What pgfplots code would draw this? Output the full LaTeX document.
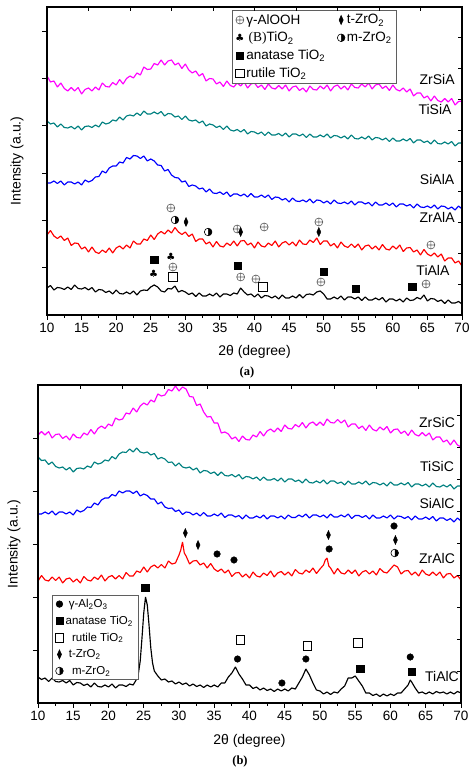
\documentclass[border=0pt]{standalone}
\usepackage{pgfplots}
\pgfplotsset{compat=1.18}
\usepackage{fontspec}
\setmainfont{Liberation Sans}
\newfontfamily\serif{Liberation Serif}
\newfontfamily\sym{DejaVu Sans}
\usetikzlibrary{plotmarks}
\definecolor{cmag}{RGB}{255,0,255}
\definecolor{cteal}{RGB}{0,128,128}
\definecolor{cblue}{RGB}{0,0,255}
\definecolor{cred}{RGB}{255,0,0}
\definecolor{mgray}{RGB}{95,95,95}
\pgfplotsset{
 mainax/.style={scale only axis, xmin=10, xmax=70, ymin=0,
   axis line style={line width=1.1pt},
   xtick={10,15,...,70}, minor x tick num=1,
   xtick pos=left, ytick pos=left, tick align=outside,
   major tick length=5pt, minor tick length=3pt,
   yticklabels={},
   every tick/.style={black, line width=0.9pt},
   ticklabel style={font=\fontsize{13.5}{15}\selectfont},
   /pgf/number format/assume math mode=true,
   xlabel={2θ (degree)}, ylabel={Intensity (a.u.)},
 },
 overax/.style={scale only axis, xmin=10, xmax=70, ymin=0,
   axis line style={line width=1.1pt},
   xtick={16,22,...,64}, xtick pos=right, ytick pos=right, tick align=inside,
   major tick length=4pt, xticklabels={}, yticklabels={},
   every tick/.style={black, line width=0.9pt},
 },
 alooh/.style={only marks, mark=oplus, mark size=4pt, mark options={line width=0.6pt}, color=mgray},
 tzro/.style={only marks, mark=diamond*, mark size=4.5pt, mark options={xscale=0.6}, black},
 btio/.style={only marks, mark=text, text mark={\fontsize{10}{10}\selectfont\sym ♣}, black},
 mzro/.style={only marks, mark=halfcircle*, mark size=3.8pt, mark options={rotate=-90, line width=0.6pt}, black},
 anat/.style={only marks, mark=square*, mark size=3.6pt, black},
 rut/.style={only marks, mark=square, mark size=4.2pt, mark options={line width=0.8pt}, black},
 gal/.style={only marks, mark=*, mark size=3.3pt, black},
 curve/.style={no markers, forget plot, line width=1.15pt, line join=bevel},
}
\begin{document}
\begin{tikzpicture}
\useasboundingbox (0pt,0pt) rectangle (474pt,781pt);
% ---------------- panel (a) ----------------
\begin{axis}[mainax, at={(47pt,466pt)}, anchor=south west, width=415pt, height=308pt, ymax=308,
  ytick={47.3,94.6,141.9,189.2,236.5,283.8},
  every axis y label/.style={at={(axis description cs:-0.072,0.5)}, rotate=90, anchor=center, font=\fontsize{14}{16}\selectfont},
  every axis x label/.style={at={(axis description cs:0.5,-0.12)}, anchor=center, font=\fontsize{14}{16}\selectfont},
  legend columns=2,
  legend cell align=left,
  legend image code/.code={\draw[mark repeat=2,mark phase=2] plot coordinates {(0pt,0pt)(5pt,0pt)(10pt,0pt)};},
  legend style={at={(0.446,0.99)}, anchor=north west, draw=mgray, line width=0.6pt, fill=white,
     font=\fontsize{13.5}{14}\selectfont, inner xsep=3pt, inner ysep=2pt, row sep=2.5pt,
     /tikz/every even column/.append style={column sep=9pt}},
]
\addplot[curve, cmag] coordinates {
(10,239)(10.5,233)(11,234)(11.5,228)(12,232)(12.5,226.5)(13,224)(13.5,227.5)(14,224)(14.5,227.5)(15,221)(15.5,225.5)
(16,227)(16.5,224)(17,228)(17.5,225)(18,232)(18.5,228.5)(19,228)(19.5,232.5)(20,230)(20.5,235.5)(21,231)(21.5,236.5)
(22,239)(22.5,237)(23,242)(23.5,240)(24,248)(24.5,245.5)(25,246)(25.5,251.5)(26,250)(26.5,255)(27,250)(27.5,254)
(28,255)(28.5,250)(29,252)(29.5,246.5)(30,251)(30.5,245)(31,242)(31.5,244)(32,239)(32.5,241.5)(33,234)(33.5,236.5)
(34,236)(34.5,231)(35,233)(35.5,228.5)(36,234)(36.5,229.5)(37,228)(37.5,232)(38,229)(38.5,233)(39,227)(39.5,231)
(40,232)(40.5,227.5)(41,230)(41.5,225.5)(42,231)(42.5,227)(43,226)(43.5,229.5)(44,226)(44.5,230)(45,224)(45.5,228)
(46,229)(46.5,224.5)(47,227)(47.5,223)(48,229)(48.5,225.5)(49,225)(49.5,229)(50,226)(50.5,230)(51,224)(51.5,228.5)
(52,230)(52.5,226)(53,229)(53.5,225)(54,231)(54.5,227.5)(55,227)(55.5,231)(56,228)(56.5,232)(57,226)(57.5,230)
(58,231)(58.5,226.5)(59,229)(59.5,224.5)(60,230)(60.5,225.5)(61,224)(61.5,227)(62,223)(62.5,226)(63,219)(63.5,222)
(64,222)(64.5,217)(65,219)(65.5,214)(66,219)(66.5,214.5)(67,213)(67.5,216.5)(68,213)(68.5,216.5)(69,210)(69.5,213.5)
(70,214)};
\addplot[curve, cteal] coordinates {
(10,194)(10.5,191)(11,192)(11.5,188)(12,191)(12.5,187.5)(13,187)(13.5,188.5)(14,186)(14.5,189)(15,185)(15.5,188.5)
(16,189)(16.5,187.5)(17,190)(17.5,188)(18,193)(18.5,191)(19,192)(19.5,195)(20,194)(20.5,198)(21,195)(21.5,199)
(22,200)(22.5,199)(23,202)(23.5,199.5)(24,204)(24.5,201)(25,201)(25.5,203)(26,201)(26.5,203.5)(27,199)(27.5,201.5)
(28,201)(28.5,198)(29,199)(29.5,195.5)(30,199)(30.5,195)(31,194)(31.5,195)(32,192)(32.5,194)(33,189)(33.5,191)
(34,190)(34.5,187.5)(35,189)(35.5,185.5)(36,189)(36.5,185)(37,184)(37.5,185.5)(38,183)(38.5,185.5)(39,181)(39.5,183.5)
(40,183)(40.5,181)(41,183)(41.5,179.5)(42,183)(42.5,180)(43,180)(43.5,181.5)(44,179)(44.5,182)(45,178)(45.5,181)
(46,181)(46.5,179)(47,181)(47.5,177.5)(48,181)(48.5,178)(49,178)(49.5,180)(50,178)(50.5,181)(51,177)(51.5,179.5)
(52,179)(52.5,177)(53,179)(53.5,176)(54,180)(54.5,176.5)(55,176)(55.5,178)(56,176)(56.5,179)(57,175)(57.5,177.5)
(58,177)(58.5,175)(59,177)(59.5,173.5)(60,177)(60.5,174)(61,174)(61.5,176)(62,174)(62.5,176.5)(63,172)(63.5,175)
(64,175)(64.5,172.5)(65,174)(65.5,171)(66,175)(66.5,171.5)(67,171)(67.5,173)(68,171)(68.5,173.5)(69,169)(69.5,172)
(70,172)};
\addplot[curve, cblue] coordinates {
(10,132)(10.5,132)(11,134)(11.5,131.5)(12,134)(12.5,130)(13,133)(13.5,133)(14,131)(14.5,133)(15,130)(15.5,135)
(16,133)(16.5,134.5)(17,138)(17.5,138.5)(18,144)(18.5,142)(19,147)(19.5,149)(20,149)(20.5,153)(21,152)(21.5,157.5)
(22,156)(22.5,159.5)(23,159)(23.5,156.5)(24,159)(24.5,154)(25,156)(25.5,154)(26,150)(26.5,149.5)(27,144)(27.5,145.5)
(28,140)(28.5,137.5)(29,137)(29.5,133)(30,134)(30.5,128.5)(31,130)(31.5,129)(32,126)(32.5,127)(33,123)(33.5,126)
(34,122)(34.5,121.5)(35,123)(35.5,120.5)(36,123)(36.5,118.5)(37,121)(37.5,121)(38,119)(38.5,121)(39,118)(39.5,121.5)
(40,118)(40.5,118)(41,120)(41.5,117.5)(42,120)(42.5,115.5)(43,118)(43.5,117.5)(44,115)(44.5,116.5)(45,113)(45.5,117)
(46,114)(46.5,113.5)(47,115)(47.5,113)(48,116)(48.5,112)(49,115)(49.5,114.5)(50,112)(50.5,114)(51,111)(51.5,115)
(52,112)(52.5,111.5)(53,113)(53.5,111)(54,114)(54.5,110)(55,113)(55.5,113)(56,111)(56.5,112.5)(57,109)(57.5,113)
(58,110)(58.5,110)(59,112)(59.5,109.5)(60,112)(60.5,108)(61,111)(61.5,111)(62,109)(62.5,110.5)(63,107)(63.5,111)
(64,108)(64.5,107.5)(65,109)(65.5,107)(66,110)(66.5,106)(67,109)(67.5,108.5)(68,106)(68.5,108)(69,105)(69.5,109)
(70,106)};
\addplot[curve, cred] coordinates {
(10,80)(10.5,84.5)(11,79)(11.5,76.5)(12,79)(12.5,74.5)(13,77)(13.5,69.5)(14,72)(14.5,71.5)(15,66)(15.5,68)
(16,63)(16.5,68)(17,63)(17.5,61.5)(18,65)(18.5,62.5)(19,67)(19.5,62)(20,67)(20.5,69)(21,66)(21.5,70)
(22,67)(22.5,74)(23,71)(23.5,71)(24,76)(24.5,74.5)(25,80)(25.5,75.5)(26,81)(26.5,83.5)(27,81)(27.5,85)
(28,82)(28.5,87.5)(29,83)(29.5,80.5)(30,83)(30.5,78.5)(31,81)(31.5,73.5)(32,76)(32.5,76)(33,71)(33.5,73)
(34,68)(34.5,73.5)(35,69)(35.5,68)(36,72)(36.5,69.5)(37,74)(37.5,69)(38,74)(38.5,74.5)(39,70)(39.5,72)
(40,67)(40.5,73)(41,69)(41.5,68)(42,72)(42.5,69.5)(43,74)(43.5,68)(44,72)(44.5,73.5)(45,70)(45.5,73)
(46,69)(46.5,75)(47,71)(47.5,70.5)(48,75)(48.5,72.5)(49,77)(49.5,70.5)(50,74)(50.5,74)(51,69)(51.5,71.5)
(52,67)(52.5,73)(53,69)(53.5,67.5)(54,71)(54.5,67.5)(55,71)(55.5,65)(56,69)(56.5,70)(57,66)(57.5,69)
(58,65)(58.5,70.5)(59,66)(59.5,65)(60,69)(60.5,66)(61,70)(61.5,63.5)(62,67)(62.5,67.5)(63,63)(63.5,65)
(64,60)(64.5,65.5)(65,61)(65.5,59)(66,62)(66.5,58)(67,61)(67.5,54)(68,57)(68.5,57)(69,52)(69.5,54)
(70,49)};
\addplot[curve, black] coordinates {
(10,27)(10.5,29.5)(11,25)(11.5,27.5)(12,27)(12.5,25.5)(13,28)(13.5,25.5)(14,30)(14.5,26.5)(15,26)(15.5,27.5)
(16,25)(16.5,27.5)(17,23)(17.5,25.5)(18,25)(18.5,22.5)(19,24)(19.5,21)(20,25)(20.5,21.5)(21,21)(21.5,23)
(22,21)(22.5,24)(23,20)(23.5,24)(24,25)(24.5,24.5)(25,28)(25.5,30)(26,28)(26.5,24)(27,23)(27.5,26.5)
(28,26)(28.5,29)(29,23)(29.5,24.5)(30,23)(30.5,20.5)(31,22)(31.5,18.5)(32,22)(32.5,19)(33,19)(33.5,21)
(34,19)(34.5,22)(35,18)(35.5,21)(36,21)(36.5,19.5)(37,22)(37.5,21)(38,27)(38.5,23)(39,20)(39.5,21)
(40,18)(40.5,21)(41,17)(41.5,19.5)(42,19)(42.5,17)(43,19)(43.5,16)(44,20)(44.5,17)(45,17)(45.5,19)
(46,17)(46.5,20.5)(47,17)(47.5,20.5)(48,21)(48.5,20)(49,23)(49.5,24)(50,21)(50.5,16)(51,16)(51.5,18)
(52,16)(52.5,19)(53,15)(53.5,18)(54,18)(54.5,16)(55,18)(55.5,14.5)(56,18)(56.5,15)(57,15)(57.5,17)
(58,15)(58.5,17.5)(59,13)(59.5,16)(60,16)(60.5,14)(61,16)(61.5,13)(62,17)(62.5,14.5)(63,15)(63.5,17.5)
(64,16)(64.5,20)(65,14)(65.5,16.5)(66,16)(66.5,13.5)(67,15)(67.5,11.5)(68,15)(68.5,12)(69,12)(69.5,13.5)
(70,11)};
% markers (legend order row-wise)
\addplot[alooh] coordinates {(27.9,107)(37.5,86)(41.4,88)(49.3,93)(65.5,70)(28.2,48)(38.0,38)(40.2,36)(49.6,33)(64.8,31)};
\addlegendentry{γ-AlOOH}
\addplot[tzro] coordinates {(30.1,93)(38.0,83)(49.3,83)};
\addlegendentry{t-ZrO\textsubscript{2}}
\addplot[btio] coordinates {(27.9,58)(25.4,41)};
\addlegendentry{\,{\serif (B)}TiO\textsubscript{2}}
\addplot[mzro] coordinates {(28.5,95)(33.3,83)};
\addlegendentry{m-ZrO\textsubscript{2}}
\addplot[anat] coordinates {(25.5,55)(37.6,49)(50.0,43)(54.6,26)(62.8,28)};
\addlegendentry{anatase TiO\textsubscript{2}}
\addlegendimage{empty legend}
\addlegendentry{}
\addplot[rut] coordinates {(28.2,38)(41.2,28)};
\addlegendentry{rutile TiO\textsubscript{2}}
\node[font=\fontsize{14}{16}\selectfont] at (axis cs:66.4,235) {ZrSiA};
\node[font=\fontsize{14}{16}\selectfont] at (axis cs:66.1,205) {TiSiA};
\node[font=\fontsize{14}{16}\selectfont] at (axis cs:66.4,135) {SiAlA};
\node[font=\fontsize{14}{16}\selectfont] at (axis cs:66.4,98) {ZrAlA};
\node[font=\fontsize{14}{16}\selectfont] at (axis cs:65.8,45) {TiAlA};
\end{axis}
\begin{axis}[overax, at={(47pt,466pt)}, anchor=south west, width=415pt, height=308pt, ymax=308,
  ytick={30.8,61.6,92.4,123.2,154,184.8,215.6,246.4,277.2}]
\end{axis}
\node[font=\fontsize{12.5}{13}\selectfont\serif\bfseries] at (247pt,409pt) {(a)};
% ---------------- panel (b) ----------------
\begin{axis}[mainax, at={(38pt,78pt)}, anchor=south west, width=423pt, height=318pt, ymax=318,
  ytick={53,106,159,212,265},
  every axis y label/.style={at={(axis description cs:-0.057,0.5)}, rotate=90, anchor=center, font=\fontsize{14}{16}\selectfont},
  every axis x label/.style={at={(axis description cs:0.5,-0.12)}, anchor=center, font=\fontsize{14}{16}\selectfont},
  legend cell align=left,
  legend image code/.code={\draw[mark repeat=2,mark phase=2] plot coordinates {(0pt,0pt)(9pt,0pt)(18pt,0pt)};},
  legend style={at={(0.033,0.34)}, anchor=north west, draw=mgray, line width=0.6pt, fill=white,
     font=\fontsize{11.5}{12}\selectfont, inner xsep=3pt, inner ysep=2pt, row sep=3pt},
]
\addplot[curve, cmag] coordinates {
(10,268)(10.5,271.5)(11,268)(11.5,271.5)(12,265)(12.5,268.5)(13,269)(13.5,264.5)(14,267)(14.5,263)(15,269)(15.5,265.5)
(16,265)(16.5,270)(17,268)(17.5,273.5)(18,269)(18.5,274.5)(19,277)(19.5,274.5)(20,279)(20.5,277)(21,285)(21.5,283)
(22,284)(22.5,290)(23,289)(23.5,295)(24,291)(24.5,297)(25,300)(25.5,298)(26,303)(26.5,301)(27,309)(27.5,307)
(28,308)(28.5,313.5)(29,312)(29.5,317)(30,312)(30.5,316)(31,314)(31.5,306.5)(32,306)(32.5,297.5)(33,299)(33.5,291)
(34,286)(34.5,286.5)(35,280)(35.5,280)(36,270)(36.5,271)(37,269)(37.5,264)(38,266)(38.5,261.5)(39,267)(39.5,263.5)
(40,263)(40.5,268)(41,266)(41.5,271.5)(42,267)(42.5,272)(43,274)(43.5,271)(44,275)(44.5,271.5)(45,278)(45.5,274.5)
(46,274)(46.5,278.5)(47,276)(47.5,280.5)(48,275)(48.5,279.5)(49,281)(49.5,277.5)(50,281)(50.5,277.5)(51,284)(51.5,280.5)
(52,280)(52.5,283.5)(53,280)(53.5,283)(54,276)(54.5,279)(55,279)(55.5,274.5)(56,277)(56.5,272.5)(57,278)(57.5,273.5)
(58,272)(58.5,276)(59,273)(59.5,276.5)(60,270)(60.5,273.5)(61,274)(61.5,269.5)(62,272)(62.5,267.5)(63,273)(63.5,268.5)
(64,267)(64.5,270.5)(65,267)(65.5,270)(66,263)(66.5,266)(67,266)(67.5,261)(68,263)(68.5,258)(69,263)(69.5,258)
(70,256)};
\addplot[curve, cteal] coordinates {
(10,246)(10.5,242.5)(11,243)(11.5,238.5)(12,241)(12.5,236.5)(13,235)(13.5,236)(14,233)(14.5,235.5)(15,231)(15.5,234.5)
(16,235)(16.5,234)(17,237)(17.5,235.5)(18,241)(18.5,239)(19,240)(19.5,243)(20,242)(20.5,246.5)(21,244)(21.5,249)
(22,251)(22.5,250.5)(23,254)(23.5,251)(24,255)(24.5,251)(25,250)(25.5,251)(26,248)(26.5,249.5)(27,244)(27.5,245.5)
(28,244)(28.5,240.5)(29,241)(29.5,237)(30,240)(30.5,236)(31,235)(31.5,236)(32,233)(32.5,235)(33,230)(33.5,232.5)
(34,232)(34.5,229.5)(35,231)(35.5,227.5)(36,231)(36.5,227.5)(37,227)(37.5,228.5)(38,226)(38.5,228.5)(39,224)(39.5,226.5)
(40,226)(40.5,224)(41,226)(41.5,222.5)(42,226)(42.5,223)(43,223)(43.5,224.5)(44,222)(44.5,225)(45,221)(45.5,224)
(46,224)(46.5,221.5)(47,223)(47.5,220)(48,224)(48.5,220.5)(49,220)(49.5,222)(50,220)(50.5,223)(51,219)(51.5,222)
(52,222)(52.5,219.5)(53,221)(53.5,218)(54,222)(54.5,219)(55,219)(55.5,221)(56,219)(56.5,222)(57,218)(57.5,220.5)
(58,220)(58.5,218)(59,220)(59.5,217)(60,221)(60.5,218)(61,218)(61.5,220)(62,218)(62.5,220.5)(63,216)(63.5,219)
(64,219)(64.5,217)(65,219)(65.5,216)(66,220)(66.5,216.5)(67,216)(67.5,218)(68,216)(68.5,218.5)(69,214)(69.5,217)
(70,217)};
\addplot[curve, cblue] coordinates {
(10,189)(10.5,189)(11,191)(11.5,189)(12,192)(12.5,188)(13,191)(13.5,191)(14,189)(14.5,191)(15,188)(15.5,193)
(16,191)(16.5,192.5)(17,196)(17.5,195.5)(18,200)(18.5,198)(19,203)(19.5,205)(20,205)(20.5,208.5)(21,207)(21.5,212)
(22,210)(22.5,212)(23,212)(23.5,209.5)(24,212)(24.5,207)(25,209)(25.5,207.5)(26,204)(26.5,204)(27,199)(27.5,201)
(28,196)(28.5,194.5)(29,195)(29.5,191.5)(30,193)(30.5,188.5)(31,191)(31.5,190.5)(32,188)(32.5,190)(33,187)(33.5,190.5)
(34,187)(34.5,187)(35,189)(35.5,187)(36,190)(36.5,185.5)(37,188)(37.5,188)(38,186)(38.5,187.5)(39,184)(39.5,188)
(40,185)(40.5,185)(41,187)(41.5,185)(42,188)(42.5,184)(43,187)(43.5,187)(44,185)(44.5,187)(45,184)(45.5,188)
(46,185.5)(46.5,185.5)(47,188)(47.5,186)(48,189)(48.5,185)(49,188)(49.5,188)(50,186)(50.5,188)(51,185)(51.5,189)
(52,186)(52.5,186)(53,188)(53.5,186)(54,189)(54.5,184.5)(55,187.5)(55.5,187.5)(56,185.5)(56.5,187.5)(57,184)(57.5,188)
(58,185)(58.5,185)(59,187)(59.5,185)(60,188)(60.5,184)(61,187)(61.5,186.5)(62,184.5)(62.5,186.5)(63,183)(63.5,187)
(64,184)(64.5,184)(65,186)(65.5,183.5)(66,186.5)(66.5,182)(67,185)(67.5,185)(68,182.5)(68.5,184.5)(69,181)(69.5,185)
(70,182)};
\addplot[curve, cred] coordinates {
(10,122)(10.5,127.5)(11,123)(11.5,122)(12,126)(12.5,122.5)(13,126)(13.5,120)(14,124)(14.5,125)(15,121)(15.5,124)
(16,120)(16.5,126.5)(17,123)(17.5,122)(18,126)(18.5,123.5)(19,128)(19.5,122)(20,126)(20.5,127.5)(21,124)(21.5,127.5)
(22,124)(22.5,130.5)(23,127)(23.5,127)(24,132)(24.5,130.5)(25,136)(25.5,131)(26,136)(26.5,138)(27,135)(27.5,138.5)
(28,135)(28.5,142)(29,139)(29.5,140)(30,148)(30.25,153)(30.5,161)(30.75,150)(31,147)(31.5,139)(32,142)(32.5,142.5)(33,138)(33.5,140)
(34,135)(34.5,139.5)(35,134)(35.5,131.5)(36,134)(36.5,130)(37,133)(37.5,126.5)(38,130)(38.5,130.5)(39,126)(39.5,129)
(40,125)(40.5,131)(41,127)(41.5,126)(42,130)(42.5,127.5)(43,132)(43.5,126)(44,130)(44.5,131.5)(45,128)(45.5,131)
(46,127)(46.5,133.5)(47,130)(47.5,129)(48,133)(48.5,130.5)(49,135)(49.5,129.5)(50,134)(50.5,138)(50.75,143)(51,145)(51.25,137)(51.5,135)
(52,129)(52.5,134.5)(53,130)(53.5,129)(54,133)(54.5,129.5)(55,133)(55.5,127)(56,131)(56.5,132.5)(57,129)(57.5,132)
(58,128)(58.5,134.5)(59,131)(59.5,130)(60,134)(60.5,138)(61,136)(61.5,129)(62,132)(62.5,132.5)(63,128)(63.5,131)
(64,127)(64.5,133)(65,129)(65.5,127.5)(66,131)(66.5,127.5)(67,131)(67.5,125)(68,129)(68.5,129.5)(69,125)(69.5,127.5)
(70,123)};
\addplot[curve, black] coordinates {
(10,26)(10.5,23.5)(11,25)(11.5,21.5)(12,25)(12.5,21.5)(13,21)(13.5,22.5)(14,20)(14.5,22.5)(15,18)(15.5,20.5)
(16,20)(16.5,17.5)(17,19)(17.5,16)(18,20)(18.5,16.5)(19,16)(19.5,18)(20,16)(20.5,19)(21,15)(21.5,18)
(22,18)(22.5,16.5)(23,19)(23.5,18)(24,24)(24.25,30)(24.5,42)(24.75,65)(25,90)(25.25,106)(25.5,98)(25.75,78)
(26,55)(26.25,40)(26.5,32)(27,27)(27.5,23)(28,24)(28.5,21)(29,22)(29.5,19)(30,21)(30.5,18.5)(31,20)
(31.5,17)(32,19)(32.5,16.5)(33,18)(33.5,15.5)(34,18)(34.5,16)(35,18)(35.5,16)(36,20)(36.5,20)(37,26)
(37.5,30)(38,36)(38.5,29)(39,24)(39.5,18)(40,18)(40.5,14.5)(41,16)(41.5,13)(42,15)(42.5,12.5)(43,14)
(43.5,11.5)(44,14)(44.5,12)(45,14)(45.5,12)(46,15)(46.5,14)(47,20)(47.5,26)(48,34)(48.5,28)(49,20)
(49.5,13)(50,12)(50.5,9)(51,11)(51.5,8.5)(52,11)(52.5,10)(53,14)(53.5,17)(54,25)(54.5,25)(55,27)
(55.5,22)(56,17)(56.5,10)(57,10)(57.5,7.5)(58,9)(58.5,6.5)(59,9)(59.5,7)(60,9)(60.5,7.5)(61,10)
(61.5,10)(62,14)(62.5,18)(62.8,23)(63,21)(63.5,15)(64,10)(64.5,11)(65,9)(65.5,11)(66,9)(66.5,11.5)
(67,10)(67.5,11)(68,9)(68.5,11)(69,9)(69.5,11.5)(70,10)};
\addplot[gal] coordinates {(35.4,149)(37.8,143)(51.3,154)(60.5,177)(38.3,44)(44.6,20)(48.0,44)(62.8,46)};
\addlegendentry{\ γ-Al\textsubscript{2}O\textsubscript{3}}
\addplot[anat] coordinates {(25.2,115)(55.7,34)(63.0,31)};
\addlegendentry{anatase TiO\textsubscript{2}}
\addplot[rut] coordinates {(38.7,63)(48.2,57)(55.4,60)};
\addlegendentry{\ \ rutile TiO\textsubscript{2}}
\addplot[tzro] coordinates {(30.9,170)(32.7,158)(51.2,168)(60.7,163)};
\addlegendentry{\ t-ZrO\textsubscript{2}}
\addplot[mzro] coordinates {(60.6,150)};
\addlegendentry{\ \ m-ZrO\textsubscript{2}}
\node[font=\fontsize{14}{16}\selectfont] at (axis cs:66.6,280) {ZrSiC};
\node[font=\fontsize{14}{16}\selectfont] at (axis cs:66.6,236) {TiSiC};
\node[font=\fontsize{14}{16}\selectfont] at (axis cs:66.6,200) {SiAlC};
\node[font=\fontsize{14}{16}\selectfont] at (axis cs:66.6,145) {ZrAlC};
\node[font=\fontsize{14}{16}\selectfont] at (axis cs:67.3,27) {TiAlC};
\end{axis}
\begin{axis}[overax, at={(38pt,78pt)}, anchor=south west, width=423pt, height=318pt, ymax=318,
  ytick={32,64,96,128,160,192,224,256,288}]
\end{axis}
\node[font=\fontsize{12.5}{13}\selectfont\serif\bfseries] at (240pt,20pt) {(b)};
\end{tikzpicture}
\end{document}
